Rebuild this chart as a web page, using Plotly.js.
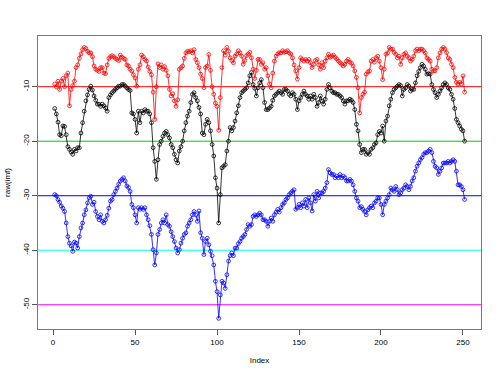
<!DOCTYPE html>
<html>
<head>
<meta charset="utf-8">
<script src="https://cdn.plot.ly/plotly-3.0.1.min.js"></script>
<style>html,body{margin:0;padding:0;background:#fff;}#chart{width:500px;height:375px;}</style>
</head>
<body>
<div id="chart"></div>
<script>
var redSeries = [
-9.5,-10,-9,-10.5,-9,-8.5,-10,-8,-7.5,-13.5,
-10.5,-9.8,-9,-6.5,-6,-4.8,-4,-3.2,-2.8,-3,
-3.5,-3.8,-3.8,-4.5,-6.2,-6.8,-7,-7.2,-6.5,-6.5,
-7.5,-7.6,-6,-4.8,-4.5,-4.3,-4.5,-4.8,-5,-5.2,
-4.2,-4.6,-4.8,-5,-6,-6.2,-6.8,-7.1,-7.8,-8.4,
-9.9,-6.8,-6,-4.2,-4.5,-5,-5.3,-6.4,-7.2,-7.8,
-11,-16,-10,-5.8,-6.5,-6,-6.8,-6.3,-7,-8,
-10.5,-11.7,-11.3,-12.6,-13.6,-12.4,-6.8,-6.5,-6.2,-4.8,
-3.8,-3.5,-3.6,-3.4,-3.8,-3.2,-5,-5.6,-6.5,-7.7,
-8.5,-10.2,-6.5,-6.2,-4.1,-7,-10,-11.4,-13,-13.6,
-18,-12,-6.5,-3.4,-4.2,-2.8,-3.5,-4.7,-5.2,-5.6,
-4.4,-4,-3.4,-3.8,-4.4,-5.9,-5.2,-4.3,-4,-3.7,
-4.7,-6.8,-8.5,-7,-5,-5,-5.9,-5.6,-6.8,-6.5,
-8,-9.5,-10.2,-7.5,-5.3,-4.4,-4,-3.75,-3.8,-3.4,
-3.7,-3.6,-3.4,-3.8,-4,-4.7,-6,-7.1,-8.6,-6.5,
-4.7,-5,-5.3,-5,-5.3,-5,-5.6,-6.5,-5.9,-5.2,
-5,-6,-6.8,-5.6,-6.5,-5.3,-4.7,-4.05,-4.6,-4.4,
-4.2,-4.6,-4.9,-5.3,-5.6,-5.9,-6.2,-5.9,-5.3,-5,
-5.5,-5.7,-6.2,-7.1,-8.3,-10.2,-14.8,-12,-11.4,-11,
-7.7,-7.3,-7.1,-5.3,-5,-5.5,-4.7,-4.4,-5.3,-6.5,
-8.7,-6.8,-4.05,-3.8,-2.8,-3.1,-3.1,-3.7,-4.05,-4.7,
-4.4,-5.9,-4.7,-4.05,-3.8,-4.4,-4.7,-5.3,-5,-4.4,
-3.4,-3.1,-3.4,-3.1,-3.1,-3.4,-3.8,-4.7,-5,-5.3,
-6.8,-7.1,-7.1,-6.5,-4.7,-3.8,-3.1,-2.8,-3.1,-3.75,
-4.7,-5,-5.9,-6.5,-8.3,-9.2,-9.5,-9.2,-9.5,-8,
-11
];
var blackSeries = [
-14,-15,-16.5,-18.8,-19,-17.2,-17.3,-18.8,-21,-21.5,
-22,-22.4,-21.5,-21.8,-21.2,-21.2,-18.5,-16.6,-14.5,-12.6,
-11.5,-10.5,-9.9,-10.6,-11.7,-12.5,-13.2,-13.2,-13.6,-13.2,
-13.5,-13.9,-14.5,-12,-11.5,-11.1,-10.8,-10.5,-10.2,-9.9,
-9.9,-9.6,-9.6,-9.9,-10.2,-10.5,-10.7,-14.8,-15,-16,
-18.5,-14.5,-16.6,-14.5,-14.8,-14.2,-14.5,-14.5,-15,-16.6,
-21.2,-23.7,-27,-23.4,-20.6,-20,-19.1,-18.5,-18.2,-18.8,
-19.4,-20.6,-21.2,-22.4,-23.4,-24,-21.8,-21,-20,-18.1,
-16.6,-15.4,-14.5,-12.9,-11.4,-11.1,-12,-12.6,-13.8,-15,
-18.5,-18.8,-16.9,-16,-16.6,-18.1,-20.6,-22.7,-26.7,-28.6,
-35,-29.8,-24.9,-24.6,-24.3,-21.8,-20,-17.5,-18.1,-17.5,
-16.3,-14.8,-13.5,-12,-11.1,-10.8,-10.5,-10.2,-9.3,-8,
-7.4,-9.6,-10.3,-11.7,-10.2,-9.3,-8.7,-10.2,-12.9,-14.2,
-14.2,-13.9,-13.6,-12.5,-11.7,-11.4,-11.1,-10.8,-11.1,-11.4,
-10.5,-10.5,-10.8,-11.4,-11.7,-11.1,-11.4,-12.3,-14.2,-12.6,
-12,-11.4,-10.8,-11.4,-11.7,-12.3,-11.7,-12.3,-11.4,-12,
-13.6,-12.9,-11.7,-12.6,-13.2,-12.3,-10.5,-9.6,-10.2,-10.8,
-11.1,-11.1,-11.4,-11.4,-11.7,-12,-12.6,-13.2,-12.6,-12.6,
-12.3,-12.5,-12.9,-14.2,-16.9,-18.1,-20.6,-22.1,-21.5,-21.5,
-22.4,-22.1,-22.4,-21.5,-21.2,-20.6,-20.3,-18.8,-18.2,-18.5,
-17.2,-20,-16.3,-15.4,-13.5,-12.3,-11.1,-10.5,-10.2,-9.9,
-9.6,-9.8,-11.7,-10.5,-10.2,-9.6,-9.9,-10.8,-10.5,-10.5,
-9.3,-8,-7.2,-6.5,-5.9,-6.2,-6.8,-7.7,-7.6,-7.7,
-9.6,-10.5,-11.1,-12,-11.4,-10.8,-10.2,-9.6,-9.3,-9.6,
-10.2,-10.5,-11.4,-12.3,-14,-16,-16.6,-17.2,-17.8,-18.1,
-20
];
var blueSeries = [
-29.8,-30,-30.7,-31.2,-31.9,-32.3,-32.9,-35,-37.5,-38.7,
-39.2,-40.2,-38.5,-38.7,-39.6,-37.5,-35.9,-35,-33.5,-32.6,
-31.3,-30.4,-30.1,-31.6,-31.2,-32.9,-33.8,-34.4,-33.5,-34.7,
-35,-34.4,-33.6,-32.3,-31,-30.7,-29.8,-29.2,-28.6,-27.9,
-27.3,-27,-26.7,-27.3,-28.2,-28.5,-29.2,-31.6,-32.2,-33.5,
-35,-32.2,-32.5,-32.2,-32.5,-32.2,-33.5,-34.4,-35.5,-37.1,
-39.9,-42.7,-40.5,-37.1,-36.2,-35,-34.4,-35,-33.5,-35.3,
-35.6,-36.6,-37.5,-38.4,-39.6,-40.5,-39.9,-38.7,-37.8,-37.1,
-36.8,-35.6,-35,-34.4,-33.5,-32.9,-33.5,-34.7,-32.8,-36.8,
-37.8,-40.8,-38.4,-37.8,-39,-40.2,-41,-42.7,-45.7,-47.6,
-52.5,-48.2,-45.7,-46,-47,-44.5,-42,-41,-40.5,-41,
-39.6,-39.6,-38.8,-38.4,-37.8,-37.5,-37.1,-36.2,-35.3,-35.6,
-35.3,-33.8,-33.5,-33.8,-33.5,-33.2,-33.5,-34.4,-34.4,-34.7,
-35.6,-34.7,-34.1,-34.7,-33.5,-33,-32.5,-33,-32.2,-31.6,
-31.3,-30.7,-30.4,-29.8,-29.5,-29.2,-28.9,-32.5,-32.2,-31.6,
-32.2,-31.3,-31.9,-30.7,-32.2,-30.4,-31.3,-32.8,-29.8,-31,
-29.2,-30.4,-29.5,-29.5,-29.2,-28.6,-27.6,-25.2,-25.8,-26.1,
-26.1,-26.7,-26.4,-26.7,-26.1,-26.7,-26.4,-26.7,-27.3,-27.3,
-27,-27.3,-28,-29.2,-30.4,-31,-32.2,-32,-32.5,-32.9,
-33.5,-32.6,-32.2,-31.9,-32.2,-31.3,-31,-30.4,-30.4,-31.6,
-33.5,-31.6,-31,-30.4,-29.8,-28.6,-28.9,-29.2,-28.3,-28.9,
-29.8,-29.5,-28.9,-28.6,-28,-28.3,-28.9,-28.3,-27.3,-26.7,
-25.5,-24.6,-24,-23.4,-23,-22.4,-22.1,-22.1,-21.8,-21.5,
-22.1,-23.7,-24.6,-24.9,-26.1,-25.5,-24.9,-24,-24,-24,
-23.7,-24,-23.7,-23.4,-23.7,-25.5,-28,-28,-28.3,-28.9,
-30.7
];
var refLevels = [-10, -20, -30, -40, -50];
var refColors = ['#FF0000', '#00CD00', '#0000FF', '#00FFFF', '#FF00FF'];
var xTicks = [0, 50, 100, 150, 200, 250];
var yTicks = [-50, -40, -30, -20, -10];
var xLabel = 'Index';
var yLabel = 'raw(imf)';

var index = redSeries.map(function (_, i) { return i + 1; });

function series(y, color) {
  return {
    x: index, y: y, type: 'scatter', mode: 'lines+markers',
    line: {color: color, width: 0.8},
    marker: {symbol: 'circle-open', size: 3.8, color: color, line: {color: color, width: 0.8}},
    hoverinfo: 'x+y', showlegend: false
  };
}

var traces = [series(blackSeries, '#000000'), series(redSeries, '#FF0000'), series(blueSeries, '#0000FF')];

var shapes = refLevels.map(function (v, k) {
  return {type: 'line', xref: 'paper', x0: 0, x1: 1, yref: 'y', y0: v, y1: v,
          line: {color: refColors[k], width: 1}, layer: 'below'};
});

var font = {family: 'Liberation Sans, Arial, sans-serif', size: 8, color: '#000'};

var layout = {
  width: 500, height: 375,
  margin: {l: 38, r: 19, t: 36, b: 46, pad: 0},
  paper_bgcolor: '#fff', plot_bgcolor: '#fff',
  font: font,
  showlegend: false,
  shapes: shapes,
  xaxis: {
    range: [-9.2, 261], tickvals: xTicks, ticktext: xTicks.map(String),
    ticks: 'outside', ticklen: 5, tickwidth: 1, tickcolor: '#555',
    showline: true, mirror: true, linecolor: '#777', linewidth: 1,
    showgrid: false, zeroline: false,
    tickfont: font,
    title: {text: xLabel, font: font, standoff: 11}
  },
  yaxis: {
    range: [-54.45, -0.7], tickvals: yTicks, ticktext: yTicks.map(String),
    ticks: 'outside', ticklen: 5, tickwidth: 1, tickcolor: '#555',
    tickangle: -90,
    showline: true, mirror: true, linecolor: '#777', linewidth: 1,
    showgrid: false, zeroline: false,
    tickfont: font,
    title: {text: yLabel, font: font, standoff: 9}
  }
};

Plotly.newPlot('chart', traces, layout, {staticPlot: true, displayModeBar: false});
</script>
</body>
</html>
